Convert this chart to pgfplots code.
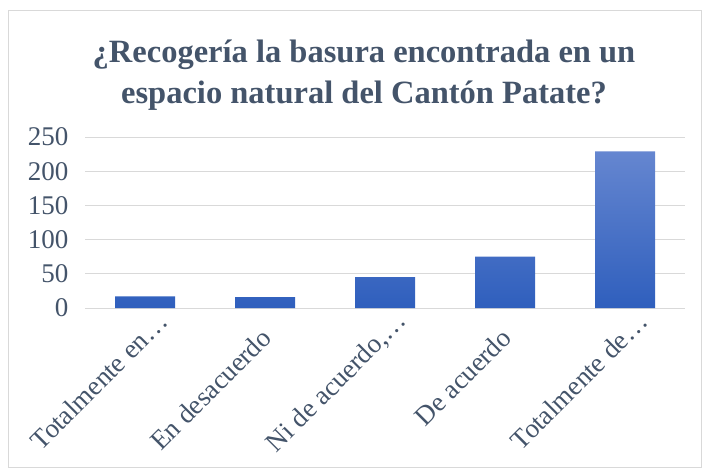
\documentclass[border=0pt]{standalone}
\usepackage{fontspec}
\setmainfont{Liberation Serif}
\usepackage{pgfplots}
\pgfplotsset{compat=1.18}
\definecolor{txt}{HTML}{44546A}
\definecolor{gridc}{HTML}{D9D9D9}
\definecolor{bartop}{HTML}{6586D0}
\definecolor{barbot}{HTML}{2F5FBD}
\begin{document}
\begin{tikzpicture}[x=1pt,y=1pt]
\useasboundingbox (0,0) rectangle (702,-468);
\draw[gridc, line width=1pt] (8.5,-10.5) rectangle (701.5,-467.5);
\node[text=txt, font=\fontsize{32.5}{41}\selectfont\bfseries, align=center, anchor=base] at (364,-104) {¿Recogería la basura encontrada en un\\espacio natural del Cantón Patate?};
\begin{axis}[
  at={(85pt,-308pt)}, anchor=south west,
  scale only axis, width=600pt, height=171pt,
  xmin=-0.5, xmax=4.5, ymin=0, ymax=250,
  axis line style={draw=none},
  ytick={0,50,100,150,200,250},
  xtick={0,1,2,3,4},
  xticklabels={Totalmente en…\hspace*{-23pt}, En desacuerdo, {Ni de acuerdo,…\hspace*{-23pt}}, De acuerdo, Totalmente de…\hspace*{-23pt}},
  major tick length=0pt,
  ymajorgrids, grid style={gridc, line width=1pt},
  /pgf/number format/assume math mode=true,
  ticklabel style={text=txt, font=\fontsize{27}{30}\selectfont},
  yticklabel style={xshift=-13pt},
  xticklabel style={xshift=4pt, yshift=-23pt, rotate=45, anchor=east},
  clip=false,
]
\addplot[ybar, bar width=60pt, draw=none, top color=bartop, bottom color=barbot] coordinates {(0,17) (1,16) (2,45) (3,75) (4,229)};
\end{axis}
\end{tikzpicture}
\end{document}
